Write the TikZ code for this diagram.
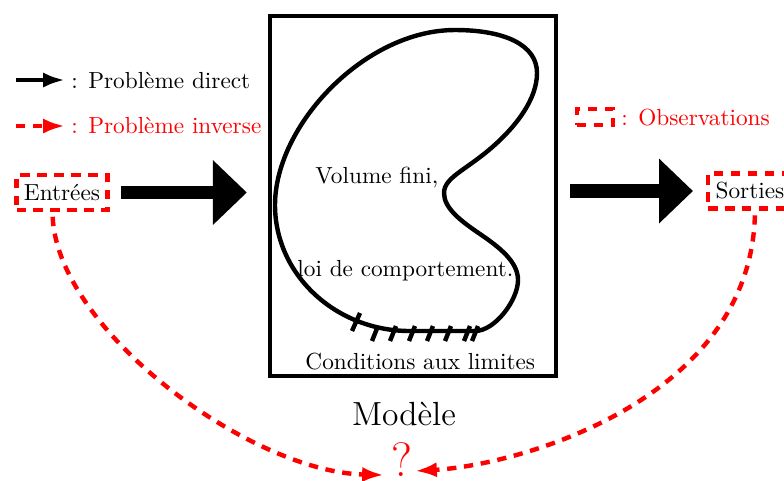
\documentclass[tikz,border=0pt]{standalone}
\usepackage{fontspec}
\usetikzlibrary{arrows.meta,calc}
\begin{document}
\begin{tikzpicture}[x=0.43pt,y=-0.43pt,
  thickline/.style={line width=1.9pt,line join=round,line cap=round},
  redbox/.style={draw=red,line width=1.9pt,dash pattern=on 4pt off 3.3pt},
  invarrow/.style={red,line width=1.9pt,dash pattern=on 4pt off 3.3pt,-{Latex[length=9.4pt,width=6.5pt]}},
  dirarrow/.style={black,line width=2pt,-{Latex[length=9.4pt,width=6.5pt]}},
  bigarrow/.style={line width=6pt,-{Triangle[length=14.6pt,width=27pt]}},
  txt/.style={inner sep=0pt,anchor=base west},
  hatch/.style={line width=1.9pt}
]
\useasboundingbox (0,0) rectangle (784,480);

% legend
\coordinate (la1) at (16,80);
\coordinate (lb1) at (65,80);
\draw[dirarrow] (la1) -- (lb1);
\node[txt] (ldir) at (71,88) {: Problème direct};
\coordinate (la2) at (16,126);
\coordinate (lb2) at (65,126);
\draw[invarrow] (la2) -- (lb2);
\node[txt,text=red] (linv) at (71,133) {: Problème inverse};

\node[redbox,minimum width=15.5pt,minimum height=6.9pt,inner sep=0pt] (obsbox) at (595,117) {};
\node[txt,text=red] (lobs) at (621,125) {: Observations};

% inputs / outputs
\node[redbox,inner xsep=3.2pt,inner ysep=0pt,minimum height=15pt] (entrees) at (62,192.5) {Entrées};
\node[redbox,inner xsep=3.2pt,inner ysep=0pt,minimum height=15pt,anchor=west] (sorties) at (706,191) {Sorties};

% model box
\node[draw,line width=1.9pt,minimum width=123pt,minimum height=154.8pt,inner sep=0pt] (model) at (413,196) {};

% blob
\draw[thickline] (455,30)
  .. controls (505,30) and (537,45) .. (537,73)
  .. controls (537,100) and (515,125.6) .. (500,140)
  .. controls (470,169) and (444,176) .. (444,193)
  .. controls (444,208) and (460,220.4) .. (480,234)
  .. controls (500,247.6) and (518,262) .. (518,280)
  .. controls (518,300) and (495,331) .. (475,331)
  -- (410,331)
  .. controls (335.5,331) and (275,274.6) .. (275,205)
  .. controls (275,125) and (365,30) .. cycle;

% hatch marks
\draw[hatch] (360,313) -- (352,331);
\foreach \mx in {375,393,412,430,448,467,475}
  \draw[hatch] (\mx+3,326) -- (\mx-3,341);

\node[txt] (vol) at (315,183) {Volume fini,};
\node[txt] (loi) at (297,276) {loi de comportement.};
\node[txt] (cond) at (305,369) {Conditions aux limites};
\node[inner sep=0pt,anchor=base,font=\Large] (modele) at (404,425) {Modèle};
\node[inner sep=0pt,anchor=north,font=\huge,text=red] (qm) at (402,442) {?};

% big arrows
\draw[bigarrow,shorten <=4.7pt,shorten >=9pt] (entrees.east) -- (entrees.east -| model.west);
\draw[bigarrow,shorten <=5.2pt,shorten >=5.6pt] (model.east |- sorties.west) -- (sorties.west);

% inverse curves
\coordinate (e1) at ($(entrees.south west)!0.4!(entrees.south east)$);
\coordinate (s1) at ($(sorties.south west)+(49,0)$);
\coordinate (q1) at (384,475);
\coordinate (q2) at (415,471);
\draw[invarrow,shorten <=2pt] (e1) .. controls ($(e1)+(5,118)$) and (250,472) .. (q1);
\draw[invarrow,shorten <=2pt] (s1) .. controls ($(s1)+(-5,189)$) and (520,465) .. (q2);
\end{tikzpicture}
\end{document}
